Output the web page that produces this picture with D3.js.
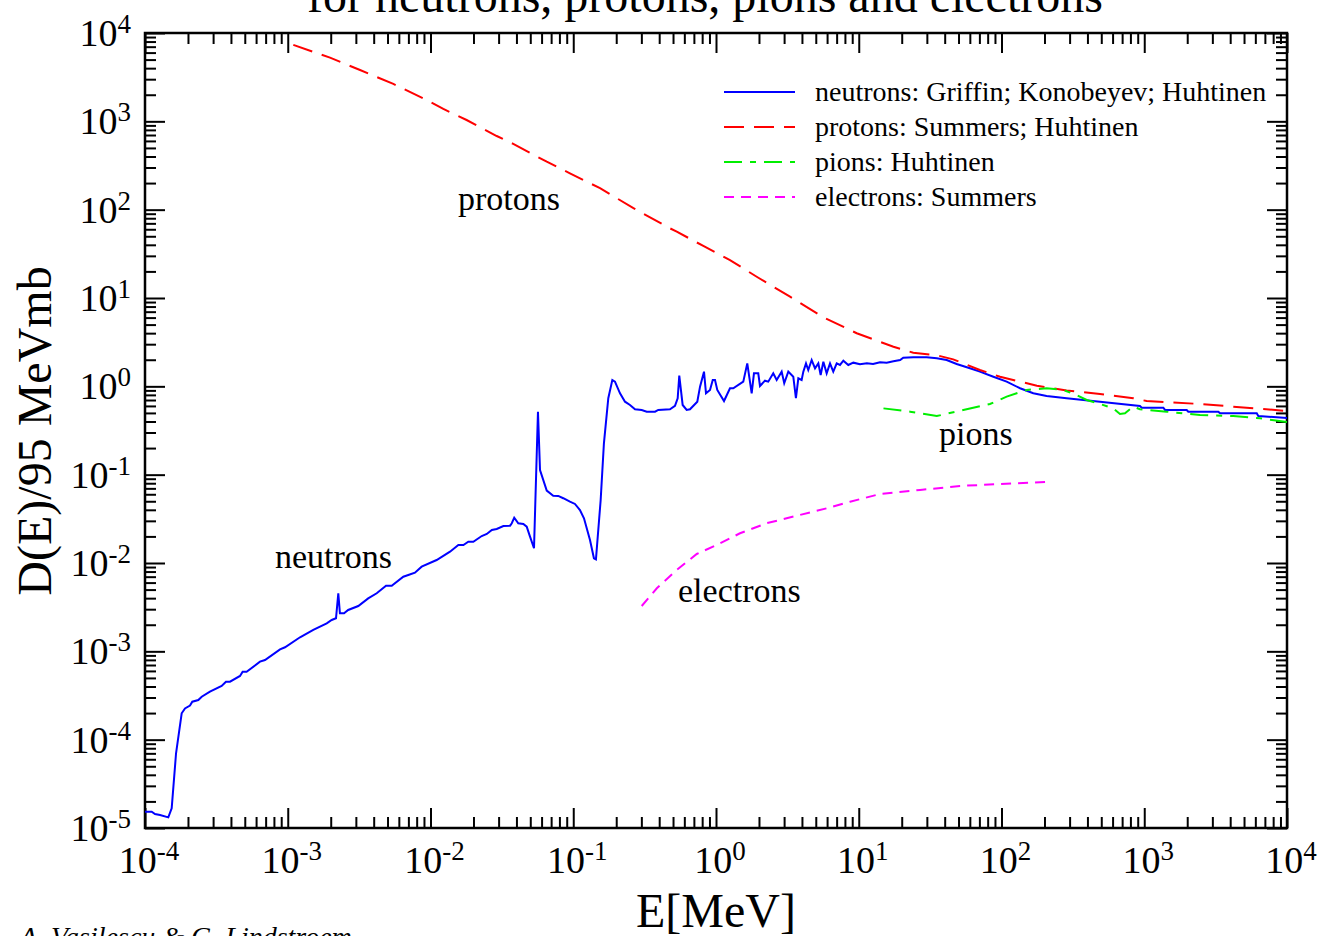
<!DOCTYPE html>
<html>
<head>
<meta charset="utf-8">
<script src="https://cdn.jsdelivr.net/npm/d3@7"></script>
<style>
body { margin: 0; background: #fff; }
svg text { font-family: "Liberation Serif", "Times New Roman", serif; fill: #000; }
</style>
</head>
<body>
<script>
// axis decades (tick labels are 10^n)
var xExponents = [-4, -3, -2, -1, 0, 1, 2, 3, 4];
var yExponents = [-5, -4, -3, -2, -1, 0, 1, 2, 3, 4];

// series: [E in MeV, D(E)/95 MeVmb]
var neutrons = [
  [1.0e-4,1.53e-5],[1.114e-4,1.53e-5],[1.175e-4,1.44e-5],[1.274e-4,1.40e-5],[1.456e-4,1.32e-5],
  [1.538e-4,1.67e-5],[1.65e-4,7.01e-5],[1.807e-4,1.99e-4],[1.906e-4,2.26e-4],[2.066e-4,2.43e-4],
  [2.145e-4,2.69e-4],[2.363e-4,2.81e-4],[2.496e-4,3.06e-4],[2.851e-4,3.49e-4],[3.443e-4,4.06e-4],
  [3.69e-4,4.53e-4],[3.94e-4,4.53e-4],[4.63e-4,5.26e-4],[4.83e-4,5.88e-4],[5.15e-4,5.88e-4],
  [6.39e-4,7.64e-4],[6.93e-4,7.98e-4],[8.83e-4,1.054e-3],[9.57e-4,1.112e-3],[1.219e-3,1.442e-3],
  [1.51e-3,1.745e-3],[1.875e-3,2.077e-3],[2.032e-3,2.265e-3],[2.178e-3,2.366e-3],[2.26e-3,4.54e-3],
  [2.32e-3,2.70e-3],[2.48e-3,2.70e-3],[2.65e-3,2.94e-3],[3.12e-3,3.26e-3],[3.66e-3,3.98e-3],
  [4.20e-3,4.54e-3],[4.88e-3,5.53e-3],[5.35e-3,5.53e-3],[6.45e-3,7.0e-3],[6.99e-3,7.31e-3],
  [7.78e-3,7.76e-3],[8.67e-3,9.08e-3],[1.104e-2,1.081e-2],[1.37e-2,1.343e-2],[1.567e-2,1.60e-2],
  [1.70e-2,1.60e-2],[1.84e-2,1.74e-2],[1.995e-2,1.74e-2],[2.285e-2,2.02e-2],[2.48e-2,2.13e-2],
  [2.69e-2,2.37e-2],[2.91e-2,2.43e-2],[3.24e-2,2.62e-2],[3.61e-2,2.64e-2],[3.71e-2,2.82e-2],
  [3.86e-2,3.26e-2],[4.12e-2,2.82e-2],[4.47e-2,2.77e-2],[4.72e-2,2.58e-2],[4.98e-2,1.99e-2],
  [5.31e-2,1.47e-2],[5.66e-2,0.516],[5.85e-2,0.113],[6.52e-2,6.59e-2],[7.24e-2,5.78e-2],
  [7.85e-2,5.74e-2],[8.51e-2,5.41e-2],[9.48e-2,4.94e-2],[0.1028,4.66e-2],[0.1114,3.98e-2],
  [0.1189,3.21e-2],[0.131,1.82e-2],[0.1396,1.13e-2],[0.1442,1.10e-2],[0.1556,5.16e-2],
  [0.164,0.2265],[0.176,0.733],[0.1878,1.18],[0.196,1.13],[0.2126,0.834],[0.2304,0.670],
  [0.2497,0.615],[0.2708,0.550],[0.3017,0.540],[0.327,0.516],[0.374,0.516],[0.394,0.540],
  [0.476,0.550],[0.516,0.600],[0.539,0.733],[0.553,1.32],[0.584,0.615],[0.623,0.540],
  [0.6575,0.550],[0.7396,0.670],[0.773,0.991],[0.824,1.466],[0.851,0.834],[0.908,0.910],
  [0.949,1.18],[0.984,1.18],[1.021,0.910],[1.138,0.682],[1.253,0.951],[1.321,0.951],
  [1.553,1.13],[1.656,1.82],[1.778,0.834],[1.845,1.405],[1.977,1.405],[2.033,1.009],
  [2.203,1.159],[2.323,1.13],[2.518,1.405],[2.661,1.18],[2.884,1.466],[3.006,1.084],
  [3.21,1.466],[3.479,1.285],[3.63,0.733],[3.773,1.233],[3.98,1.18],[4.09,1.466],
  [4.27,1.82],[4.43,1.531],[4.68,1.986],[4.94,1.60],[5.21,1.82],[5.41,1.343],[5.65,1.90],
  [5.96,1.405],[6.29,1.82],[6.63,1.466],[7.01,1.82],[7.39,1.746],[7.80,1.95],[8.45,1.746],
  [9.16,1.853],[10.2,1.778],[11.4,1.82],[12.6,1.79],[14.1,1.87],[15.7,1.853],[17.5,1.92],
  [19.5,1.986],[20.5,2.11],[24.1,2.13],[29.9,2.13],[35.2,2.08],[41.3,1.986],[48.5,1.79],
  [60.1,1.60],[70.6,1.466],[87.7,1.285],[108.7,1.13],[134.9,0.951],[167,0.834],[207,0.778],
  [286,0.733],[490,0.670],[933,0.600],[960,0.573],[1360,0.573],[1398,0.540],[1983,0.540],
  [2035,0.516],[3304,0.516],[3396,0.496],[6138,0.496],[6295,0.461],[10000,0.439]
];

var protons = [
  [1.094e-3,7330],[1.977e-3,5260],[3.21e-3,3810],[5.49e-3,2650],[8.91e-3,1820],[1.23e-2,1380],
  [1.79e-2,1035],[2.91e-2,682],[3.80e-2,555],[6.52e-2,349],[9.48e-2,258],[0.154,175],
  [0.264,104],[0.476,61.5],[0.531,56.4],[0.815,38.8],[1.253,26.9],[1.928,17.4],[3.30,10.35],
  [5.65,6.05],[9.68,3.99],[17.5,2.81],[24.1,2.40],[35.2,2.25],[45.9,2.02],[70.6,1.531],
  [97.7,1.285],[134.9,1.13],[177,1.017],[286,0.897],[490,0.818],[838,0.733],[1040,0.682],
  [2460,0.631],[4200,0.589],[10000,0.526]
];

var pions = [
  [14.9,0.563],[22.9,0.516],[35.2,0.461],[54.0,0.540],[83.0,0.631],[108.7,0.764],[150,0.910],
  [207,0.951],[271,0.910],[336,0.798],[395,0.700],[490,0.631],[607,0.563],[676,0.486],
  [733,0.496],[838,0.589],[933,0.550],[1436,0.516],[2460,0.474],[4200,0.461],[6470,0.435],
  [10000,0.394]
];

var electrons = [
  [0.3017,3.26e-3],[0.385,5.18e-3],[0.531,8.34e-3],[0.733,1.265e-2],[1.012,1.60e-2],
  [1.473,2.17e-2],[2.265,2.82e-2],[3.87,3.50e-2],[5.96,4.16e-2],[8.69,4.94e-2],
  [14.1,6.04e-2],[26.9,6.71e-2],[51.2,7.45e-2],[97.7,7.83e-2],[208,8.26e-2]
];

var legendLabels = [
  "neutrons: Griffin; Konobeyev; Huhtinen",
  "protons: Summers; Huhtinen",
  "pions: Huhtinen",
  "electrons: Summers"
];

// set the size of the graph
var margin = {top: 33, right: 31, bottom: 108, left: 145},
    width = 1318 - margin.left - margin.right,
    height = 936 - margin.top - margin.bottom;

var x = d3.scaleLog().domain([1e-4, 1e4]).range([0, width]);
var y = d3.scaleLog().domain([1e-5, 1e4]).range([height, 0]);

var svg = d3.select("body").append("svg")
    .attr("width", 1318)
    .attr("height", 936);

var g = svg.append("g")
    .attr("transform", "translate(" + margin.left + "," + margin.top + ")");

// major and minor tick values
var xMajor = xExponents.map(function(e) { return Math.pow(10, e); });
var yMajor = yExponents.map(function(e) { return Math.pow(10, e); });
function minorTicks(exps) {
  var out = [];
  for (var i = 0; i < exps.length - 1; i++)
    for (var k = 2; k < 10; k++) out.push(k * Math.pow(10, exps[i]));
  return out;
}
var xMinor = minorTicks(xExponents);
var yMinor = minorTicks(yExponents);

function styleAxis(sel) {
  sel.select(".domain").remove();
  sel.selectAll(".tick line").attr("stroke", "#000").attr("stroke-width", 2);
}

var majorLen = -20, minorLen = -11;

// bottom / top
g.append("g").attr("transform", "translate(0," + height + ")")
  .call(d3.axisBottom(x).tickValues(xMajor).tickSize(majorLen).tickFormat("")).call(styleAxis);
g.append("g").attr("transform", "translate(0," + height + ")")
  .call(d3.axisBottom(x).tickValues(xMinor).tickSize(minorLen).tickFormat("")).call(styleAxis);
g.append("g")
  .call(d3.axisTop(x).tickValues(xMajor).tickSize(majorLen).tickFormat("")).call(styleAxis);
g.append("g")
  .call(d3.axisTop(x).tickValues(xMinor).tickSize(minorLen).tickFormat("")).call(styleAxis);

// left / right
g.append("g")
  .call(d3.axisLeft(y).tickValues(yMajor).tickSize(majorLen).tickFormat("")).call(styleAxis);
g.append("g")
  .call(d3.axisLeft(y).tickValues(yMinor).tickSize(minorLen).tickFormat("")).call(styleAxis);
g.append("g").attr("transform", "translate(" + width + ",0)")
  .call(d3.axisRight(y).tickValues(yMajor).tickSize(majorLen).tickFormat("")).call(styleAxis);
g.append("g").attr("transform", "translate(" + width + ",0)")
  .call(d3.axisRight(y).tickValues(yMinor).tickSize(minorLen).tickFormat("")).call(styleAxis);

// frame
g.append("rect")
  .attr("width", width).attr("height", height)
  .attr("fill", "none").attr("stroke", "#000").attr("stroke-width", 2.5);

// tick labels 10^n
function powLabel(sel, e) {
  sel.append("tspan").text("10");
  sel.append("tspan").attr("dy", -13).style("font-size", "27px").text(String(e));
}
xExponents.forEach(function(e) {
  g.append("text")
    .attr("x", x(Math.pow(10, e)) + 4)
    .attr("y", height + 45)
    .attr("text-anchor", "middle")
    .style("font-size", "38px")
    .call(powLabel, e);
});
yExponents.forEach(function(e) {
  g.append("text")
    .attr("x", -14)
    .attr("y", y(Math.pow(10, e)) + 13)
    .attr("text-anchor", "end")
    .style("font-size", "38px")
    .call(powLabel, e);
});

// curves
var line = d3.line()
  .x(function(d) { return x(d[0]); })
  .y(function(d) { return y(d[1]); });

var series = [
  {data: neutrons,  color: "#0000ff", dash: null},
  {data: protons,   color: "#ff0000", dash: "20,10"},
  {data: pions,     color: "#00ee00", dash: "18,8,6,8"},
  {data: electrons, color: "#ff00ff", dash: "10,7"}
];

g.append("clipPath").attr("id", "clip")
  .append("rect").attr("width", width).attr("height", height);

series.forEach(function(s) {
  g.append("path")
    .datum(s.data)
    .attr("clip-path", "url(#clip)")
    .attr("fill", "none")
    .attr("stroke", s.color)
    .attr("stroke-width", 2)
    .attr("stroke-dasharray", s.dash)
    .attr("d", line);
});

// legend
var legend = svg.append("g");
series.forEach(function(s, i) {
  var ly = 92 + i * 35;
  legend.append("line")
    .attr("x1", 724).attr("x2", 795).attr("y1", ly).attr("y2", ly)
    .attr("stroke", s.color).attr("stroke-width", 2)
    .attr("stroke-dasharray", s.dash);
  legend.append("text")
    .attr("x", 815).attr("y", ly + 9)
    .style("font-size", "28px")
    .text(legendLabels[i]);
});

// curve labels
svg.append("text").attr("x", 458).attr("y", 210).style("font-size", "34px").text("protons");
svg.append("text").attr("x", 275).attr("y", 568).style("font-size", "34px").text("neutrons");
svg.append("text").attr("x", 678).attr("y", 602).style("font-size", "34px").text("electrons");
svg.append("text").attr("x", 939).attr("y", 445).style("font-size", "34px").text("pions");

// title (partly off the top of the page)
svg.append("text")
  .attr("x", 705).attr("y", 12)
  .attr("text-anchor", "middle")
  .style("font-size", "48px")
  .text("for neutrons, protons, pions and electrons");

// axis titles
svg.append("text")
  .attr("x", 716).attr("y", 927)
  .attr("text-anchor", "middle")
  .style("font-size", "48px")
  .text("E[MeV]");

svg.append("text")
  .attr("transform", "translate(51,431) rotate(-90)")
  .attr("text-anchor", "middle")
  .style("font-size", "48px")
  .text("D(E)/95 MeVmb");

// credit
svg.append("text")
  .attr("x", 20).attr("y", 946)
  .style("font-size", "28px")
  .style("font-style", "italic")
  .text("A. Vasilescu & G. Lindstroem");
</script>
</body>
</html>
